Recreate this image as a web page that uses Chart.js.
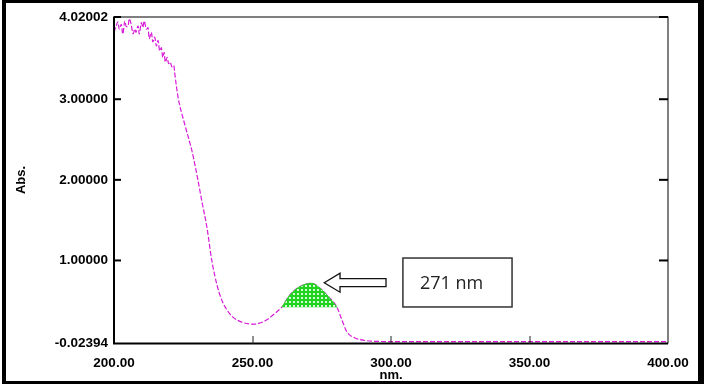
<!DOCTYPE html>
<html lang="en"><head><meta charset="utf-8">
<title>UV spectrum - Abs. vs nm</title>
<script src="https://cdn.jsdelivr.net/npm/chart.js@4/dist/chart.umd.min.js"></script>
<style>
  html, body { margin: 0; padding: 0; background: #fff; }
  #wrap { position: relative; width: 709px; height: 384px; }
</style>
</head>
<body>
<div id="wrap"><canvas id="spec" width="709" height="384"></canvas></div>

<script>
// spectrum
const wavelength = [
  200.0, 200.7, 201.4, 201.9, 202.6, 203.2, 203.9, 204.4, 205.1, 205.5,
  206.2, 206.9, 207.5, 207.9, 208.7, 209.1, 209.9, 210.4, 210.9, 211.7,
  212.3, 212.7, 213.5, 214.0, 214.7, 215.3, 215.9, 216.5, 217.1, 217.6,
  218.1, 218.5, 219.2, 219.7, 220.3, 220.9, 221.6, 221.9, 223.1, 225.6,
  228.2, 230.0, 231.8, 233.6, 235.3, 237.3, 239.0, 240.8, 242.5, 244.4,
  246.5, 249.1, 251.0, 252.7, 255.0, 257.4, 259.0, 260.6, 263.5, 267.1,
  271.4, 274.4, 277.4, 280.5, 282.3, 284.1, 287.0, 291.3, 295.0, 300.0,
  350.0, 400.0
];
const absorbance = [
  3.83, 3.90, 3.96, 3.87, 3.93, 3.81, 3.97, 3.90, 3.91, 4.00,
  3.93, 3.81, 3.87, 3.83, 3.91, 3.81, 3.95, 3.89, 3.97, 3.87,
  3.89, 3.75, 3.83, 3.71, 3.77, 3.66, 3.73, 3.60, 3.64, 3.52,
  3.58, 3.46, 3.52, 3.44, 3.46, 3.40, 3.42, 3.33, 3.03, 2.68,
  2.35, 2.05, 1.72, 1.40, 1.00, 0.68, 0.50, 0.386, 0.31, 0.262,
  0.23, 0.212, 0.21, 0.224, 0.26, 0.324, 0.37, 0.42, 0.572, 0.675,
  0.717, 0.655, 0.551, 0.42, 0.26, 0.113, 0.039, 0.004, -0.004, -0.006,
  -0.006, -0.006
];

// shaded peak
const peakWavelength = [260.6, 263.5, 267.1, 271.4, 274.4, 277.4, 280.5];
const peakAbsorbance = [0.42, 0.572, 0.675, 0.717, 0.655, 0.551, 0.42];
const peakBase = 0.42;

const xTicks = [200, 250, 300, 350, 400];
const yTicks = [-0.02394, 1, 2, 3, 4.02002];
const peakLabel = '271 nm';

// callout placement (data units)
const calloutBox = { x0: 304.3, x1: 343.7, y0: 0.423, y1: 1.03 };
const arrowTip = { x: 275.9, y: 0.724 };
const arrowHeadX = 281.6;
const arrowTailX = 298.2;

// green cross-hatch for the peak
function hatch() {
  const c = document.createElement('canvas');
  c.width = 4; c.height = 4;
  const g = c.getContext('2d');
  g.fillStyle = '#1fd41f';
  g.fillRect(0, 0, 4, 4);
  g.fillStyle = '#ffffff';
  g.beginPath();
  g.arc(2, 2, 1.1, 0, Math.PI * 2);
  g.fill();
  return g.createPattern(c, 'repeat');
}

const boxPlugin = {
  id: 'boxPlugin',
  afterDraw(chart) {
    const ctx = chart.ctx;
    const a = chart.chartArea;
    const xs = chart.scales.x, ys = chart.scales.y;
    ctx.save();
    ctx.fillStyle = '#000';
    // plot box
    ctx.fillRect(a.left - 1, a.top, 2, a.bottom - a.top + 1);
    ctx.fillRect(a.left - 1, a.top - 0.5, a.right - a.left + 1, 1);
    ctx.fillRect(a.right - 0.5, a.top - 0.5, 1, a.bottom - a.top + 1);
    ctx.fillRect(a.left - 1, a.bottom - 0.5, a.right - a.left + 1, 2);
    // y ticks, inward both sides
    yTicks.forEach(v => {
      if (v === ys.min) return;
      const y = ys.getPixelForValue(v);
      ctx.fillRect(a.left, y - 1, 7, 2);
      ctx.fillRect(a.right - 9, y - 1, 9, 2);
    });
    // x ticks, inward
    ctx.fillStyle = '#222';
    xTicks.forEach(v => {
      if (v === xs.min || v === xs.max) return;
      const x = Math.round(xs.getPixelForValue(v)) - 0.5;
      ctx.fillRect(x, a.bottom - 7, 1, 8);
    });

    // callout arrow
    const tx = xs.getPixelForValue(arrowTip.x), ty = ys.getPixelForValue(arrowTip.y);
    const hx = xs.getPixelForValue(arrowHeadX), sx = xs.getPixelForValue(arrowTailX);
    ctx.beginPath();
    ctx.moveTo(tx, ty);
    ctx.lineTo(hx, ty - 9.5);
    ctx.lineTo(hx, ty - 4);
    ctx.lineTo(sx, ty - 4);
    ctx.lineTo(sx, ty + 4);
    ctx.lineTo(hx, ty + 4);
    ctx.lineTo(hx, ty + 9.5);
    ctx.closePath();
    ctx.fillStyle = '#fff';
    ctx.fill();
    ctx.strokeStyle = '#111';
    ctx.lineWidth = 1.3;
    ctx.stroke();

    // callout box
    const bx0 = xs.getPixelForValue(calloutBox.x0), bx1 = xs.getPixelForValue(calloutBox.x1);
    const by0 = ys.getPixelForValue(calloutBox.y1), by1 = ys.getPixelForValue(calloutBox.y0);
    ctx.fillStyle = '#fff';
    ctx.fillRect(bx0, by0, bx1 - bx0, by1 - by0);
    ctx.strokeStyle = '#333';
    ctx.lineWidth = 1.5;
    ctx.strokeRect(bx0, by0, bx1 - bx0, by1 - by0);
    ctx.fillStyle = '#222';
    ctx.font = '18px "Open Sans"';
    ctx.textBaseline = 'middle';
    ctx.textAlign = 'left';
    ctx.fillText(peakLabel, bx0 + 17, (by0 + by1) / 2 + 1);

    // outer frame
    ctx.fillStyle = '#000';
    ctx.fillRect(2, 0, 702, 3);
    ctx.fillRect(2, 0, 4, 384);
    ctx.fillRect(698, 0, 6, 384);
    ctx.fillRect(2, 381, 702, 3);
    ctx.restore();
  }
};

const ctx = document.getElementById('spec').getContext('2d');
const chart = new Chart(ctx, {
  type: 'line',
  data: {
    datasets: [
      {
        label: 'peak',
        data: peakWavelength.map((w, i) => ({ x: w, y: peakAbsorbance[i] })),
        borderColor: '#2ed12e',
        borderWidth: 1,
        backgroundColor: hatch(),
        fill: { value: peakBase },
        pointRadius: 0,
        cubicInterpolationMode: 'monotone'
      },
      {
        label: 'Abs.',
        data: wavelength.map((w, i) => ({ x: w, y: absorbance[i] })),
        borderColor: '#d81ad8',
        borderWidth: 1.2,
        borderDash: [5, 2],
        fill: false,
        pointRadius: 0,
        cubicInterpolationMode: 'monotone'
      }
    ]
  },
  options: {
    responsive: false,
    animation: false,
    devicePixelRatio: 1,
    layout: { padding: { left: 0, right: 41, top: 17, bottom: 0 } },
    plugins: { legend: { display: false }, tooltip: { enabled: false } },
    scales: {
      x: {
        type: 'linear',
        min: 200,
        max: 400,
        afterBuildTicks: s => { s.ticks = xTicks.map(v => ({ value: v })); },
        afterFit: s => { s.height = 41; },
        grid: { display: false, drawTicks: false },
        border: { display: false },
        ticks: {
          callback: v => Number(v).toFixed(2),
          color: '#000',
          font: { family: 'Liberation Sans', size: 13.5, weight: 'bold' },
          padding: 12,
          maxRotation: 0,
          autoSkip: false
        },
        title: {
          display: true,
          text: 'nm.',
          color: '#000',
          font: { family: 'Liberation Sans', size: 13, weight: 'bold', lineHeight: 1.1 },
          padding: { top: 0, bottom: 1 }
        }
      },
      y: {
        min: -0.02394,
        max: 4.02002,
        afterBuildTicks: s => { s.ticks = yTicks.map(v => ({ value: v })); },
        afterFit: s => { s.width = 114; },
        grid: { display: false, drawTicks: false },
        border: { display: false },
        ticks: {
          callback: v => Number(v).toFixed(5),
          color: '#000',
          font: { family: 'Liberation Sans', size: 13.5, weight: 'bold' },
          padding: 6,
          autoSkip: false
        },
        title: {
          display: true,
          text: 'Abs.',
          color: '#000',
          font: { family: 'Liberation Sans', size: 13, weight: 'bold' },
          padding: { top: 14, bottom: 0 }
        }
      }
    }
  },
  plugins: [boxPlugin]
});
</script>
</body>
</html>
